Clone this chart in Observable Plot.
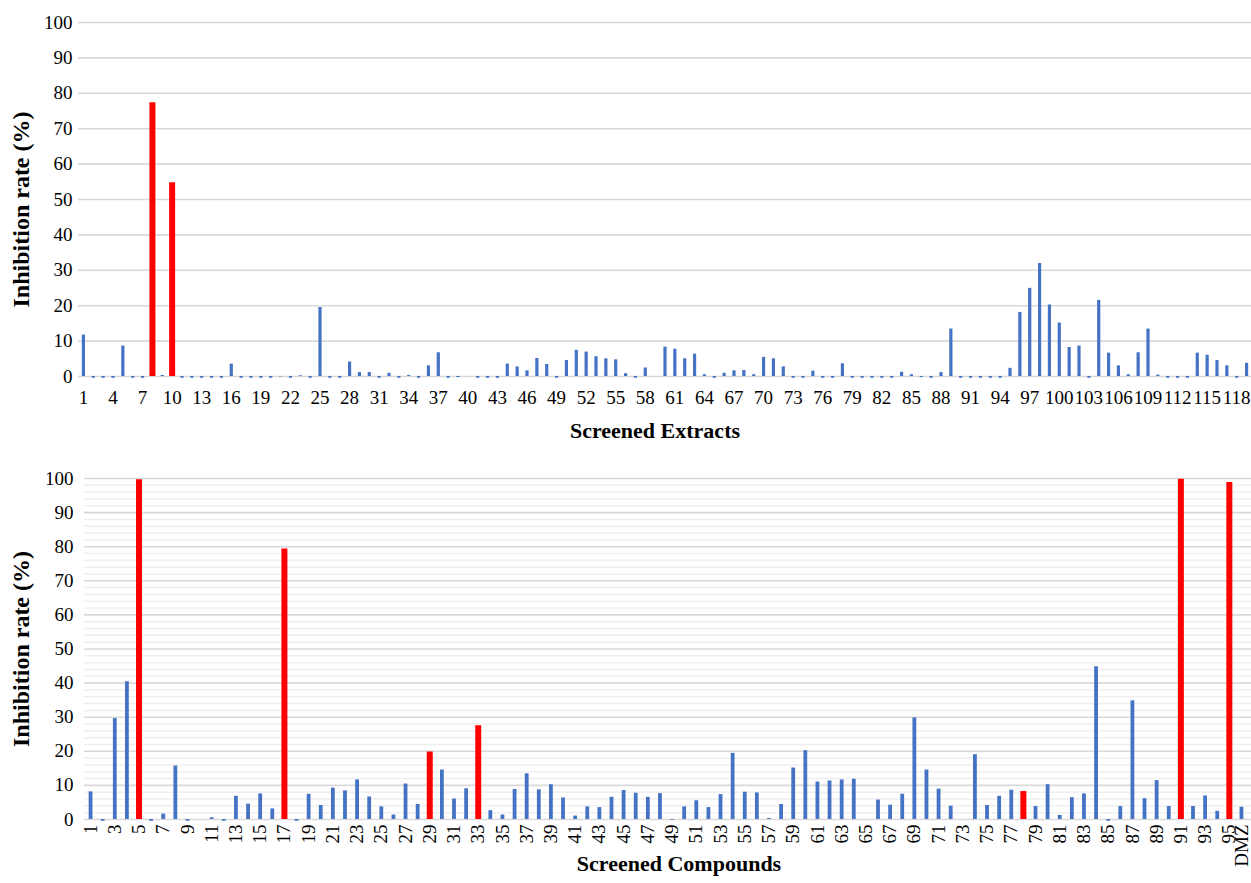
<!DOCTYPE html>
<html><head><meta charset="utf-8">
<script src="https://cdn.jsdelivr.net/npm/d3@7"></script>
<script src="https://cdn.jsdelivr.net/npm/@observablehq/plot@0.6"></script>
<style>
body{margin:0;background:#fff;overflow:hidden;}
#chart svg{display:block;}
</style></head><body><div id="chart"></div>
<script>
// Top panel: screened extracts 1..119
const extractLabels = d3.range(1, 120).map(String);
const extractValues = [
  11.7, -0.5, -0.5, -0.5, 8.6, -0.5, -0.5, 77.3, 0.3, 54.7,
  -0.5, -0.5, -0.5, -0.5, -0.5, 3.5, -0.5, -0.5, -0.5, -0.5,
  -0.1, -0.5, 0.2, -0.5, 19.5, -0.5, -0.5, 4.1, 1.1, 1.1,
  -0.5, 0.9, -0.5, 0.3, -0.5, 3.0, 6.7, -0.5, -0.3, 0,
  -0.5, -0.5, -0.5, 3.5, 2.7, 1.6, 5.1, 3.4, -0.5, 4.5,
  7.4, 6.9, 5.6, 5.0, 4.7, 0.8, -0.5, 2.4, 0, 8.3,
  7.7, 5.0, 6.3, 0.5, -0.5, 0.9, 1.6, 1.7, 0.5, 5.4,
  5.0, 2.7, -0.5, -0.5, 1.5, -0.5, -0.5, 3.6, -0.5, -0.5,
  -0.5, -0.5, -0.5, 1.2, 0.5, -0.3, -0.5, 1.1, 13.4, -0.5,
  -0.5, -0.5, -0.5, -0.5, 2.3, 18.1, 24.9, 31.9, 20.2, 15.1,
  8.2, 8.6, -0.5, 21.5, 6.6, 3.0, 0.5, 6.7, 13.4, 0.4,
  -0.5, -0.5, -0.5, 6.6, 6.0, 4.5, 3.0, -0.5, 3.7
];
const extractHits = ["8", "10"];
const extractTickLabels = extractLabels.filter((d, i) => i % 3 === 0);

// Bottom panel: screened compounds 1..95 + control
const compoundLabels = [...d3.range(1, 96).map(String), "DMZ"];
const compoundValues = [
  8.1, -0.5, 29.6, 40.4, 99.6, -0.5, 1.6, 15.7, -0.5, 0,
  0.5, -0.5, 6.8, 4.5, 7.5, 3.1, 79.3, -0.5, 7.4, 4.1,
  9.2, 8.4, 11.6, 6.6, 3.7, 1.3, 10.4, 4.4, 19.8, 14.5,
  6.0, 9.0, 27.5, 2.6, 1.3, 8.8, 13.4, 8.7, 10.2, 6.3,
  1.0, 3.7, 3.5, 6.5, 8.5, 7.7, 6.5, 7.6, -0.2, 3.7,
  5.5, 3.5, 7.3, 19.4, 8.0, 7.8, 0.3, 4.4, 15.1, 20.2,
  11.0, 11.3, 11.6, 11.8, 0, 5.7, 4.2, 7.4, 29.8, 14.5,
  8.9, 3.9, 0, 19.0, 4.1, 6.8, 8.6, 8.2, 3.8, 10.2,
  1.2, 6.4, 7.5, 44.8, -0.5, 3.8, 34.8, 6.1, 11.4, 3.8,
  99.8, 3.8, 6.9, 2.4, 98.8, 3.6
];
const compoundHits = ["5", "17", "29", "33", "78", "91", "95"];
const compoundTickLabels = compoundLabels.filter((d, i) => i % 2 === 0 || d === "DMZ");

const yTicks = [0, 10, 20, 30, 40, 50, 60, 70, 80, 90, 100];
const yMinorTicks = d3.range(0, 101, 2).filter(v => v % 10 !== 0);

const yTitle = "Inhibition rate (%)";
const FONT = "'Liberation Serif', 'Times New Roman', serif";

function panel(o) {
  const data = o.labels.map((l, i) => ({label: l, value: o.values[i], hit: o.hits.includes(l)}));
  return Plot.plot({
    width: 1251, height: o.height,
    marginLeft: o.marginLeft, marginRight: o.marginRight,
    marginTop: o.marginTop, marginBottom: o.marginBottom,
    style: {fontFamily: FONT, fontSize: "19px", color: "#000", background: "#fff", overflow: "visible"},
    x: {type: "point", domain: o.labels, padding: 0.5, round: false, axis: null},
    y: {domain: [0, 100], axis: null},
    marks: [
      o.minor ? Plot.ruleY(o.minor, {stroke: "#efefef", strokeWidth: 1.5, insetRight: -6}) : null,
      Plot.ruleY(yTicks, {stroke: "#d9d9d9", strokeWidth: 1.6, insetRight: -6}),
      Plot.axisY(yTicks, {tickSize: 0, tickPadding: o.yPad, label: null}),
      Plot.axisX(o.tickLabels, {tickSize: 0, tickPadding: o.xPad, tickRotate: o.rotate, label: null}),
      Plot.ruleX(data.filter(d => !d.hit), {x: "label", y1: 0, y2: "value", stroke: "#4472C4", strokeWidth: o.blueW}),
      Plot.ruleX(data.filter(d => d.hit), {x: "label", y1: 0, y2: "value", stroke: "#FF0000", strokeWidth: 6}),
      Plot.text([o.title], {frameAnchor: "bottom", dx: o.titleDx, dy: o.titleDy, fontWeight: "bold", fontSize: 22}),
      Plot.text([yTitle], {frameAnchor: "left", textAnchor: "middle", rotate: -90, dx: o.yTitleDx, dy: o.yTitleDy, fontWeight: "bold", fontSize: 24})
    ]
  });
}

const chart = document.getElementById("chart");
chart.append(panel({
  labels: extractLabels, values: extractValues, hits: extractHits, tickLabels: extractTickLabels,
  height: 445, marginLeft: 78, marginRight: 0, marginTop: 22, marginBottom: 69,
  yPad: 6, xPad: 14, rotate: 0, blueW: 3.2, title: "Screened Extracts", titleDx: -10, titleDy: 61,
  yTitleDx: -57, yTitleDy: 10
}));
chart.append(panel({
  labels: compoundLabels, values: compoundValues, hits: compoundHits, tickLabels: compoundTickLabels,
  height: 450, marginLeft: 84, marginRight: 4, marginTop: 33, marginBottom: 76,
  yPad: 11, xPad: 5, rotate: -90, blueW: 3.8, minor: yMinorTicks, title: "Screened Compounds", titleDx: 13, titleDy: 51,
  yTitleDx: -63, yTitleDy: 0
}));
</script></body></html>
